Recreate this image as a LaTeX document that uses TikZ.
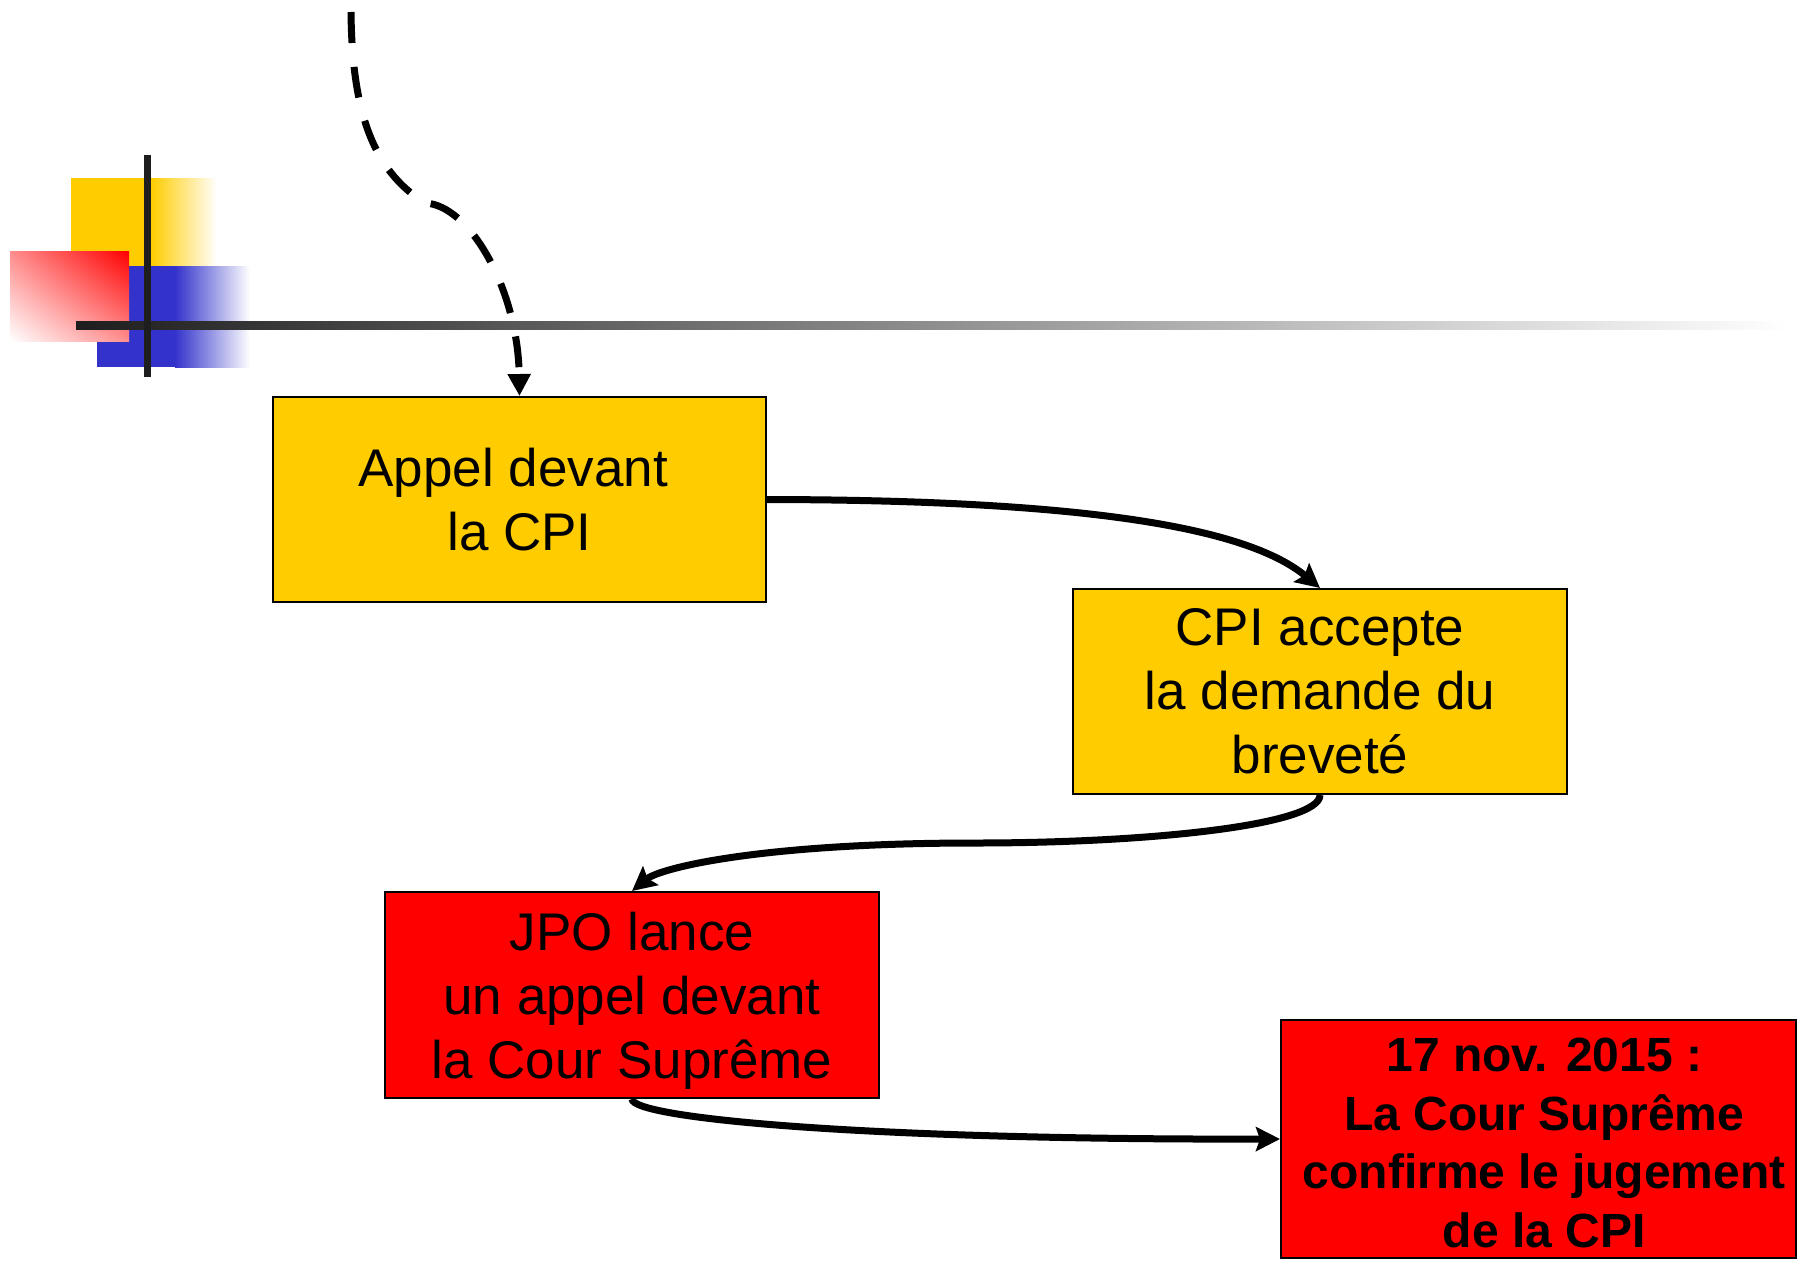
\documentclass[tikz,border=0pt]{standalone}
\usepackage{fontspec}
\setmainfont{Liberation Sans}
\usetikzlibrary{arrows.meta,shadings}
\definecolor{boxyellow}{HTML}{FFCC00}
\definecolor{boxred}{HTML}{FF0000}
\definecolor{decoblue}{HTML}{3333CC}
\definecolor{decodark}{HTML}{1E1E1E}
\newcommand{\txtleftnudge}{\hspace*{-12.6pt}}
\newcommand{\txtrightnudge}{\hspace*{11.5pt}}
\tikzset{
  stagebox/.style={draw=black, line width=2pt, inner sep=0pt, align=center,
    font=\fontsize{53}{64}\selectfont},
  yellowbox/.style={stagebox, fill=boxyellow},
  redbox/.style={stagebox, fill=boxred},
  flow/.style={line width=7pt, -{Stealth[length=24pt,width=24pt,inset=4pt]}},
  dashflow/.style={line width=7pt, dash pattern=on 31pt off 24pt,
    -{Triangle[length=22pt,width=22pt]}},
}
\begin{document}
\begin{tikzpicture}[x=1pt,y=-1pt]
\useasboundingbox (0,0) rectangle (1798,1264);
% decoration
\fill[boxyellow] (71,178) rectangle (151,267);
\shade[left color=boxyellow, right color=white] (151,178) rectangle (217,267);
\fill[decoblue] (97,266) rectangle (175,367);
\shade[left color=decoblue, right color=white] (175,266) rectangle (250,367);
\shade[upper right=boxred, lower left=white, upper left=boxred!45, lower right=boxred!45]
  (10,251) rectangle (129,341);
\shade[left color=decodark, right color=white] (76,321) rectangle (1790,329);
\fill[decodark] (144,155) rectangle (151,377);
% boxes
\node[yellowbox, minimum width=493pt, minimum height=205pt] (b1) at (519.5,499.5)
  {\txtleftnudge Appel devant\\la CPI};
\node[yellowbox, minimum width=494pt, minimum height=205pt] (b2) at (1320,691.5)
  {CPI accepte\\la demande du\\breveté};
\node[redbox, minimum width=494pt, minimum height=206pt] (b3) at (632,995)
  {JPO lance\\un appel devant\\\smash{la Cour Suprême}};
\node[redbox, minimum width=515pt, minimum height=238pt,
  font=\fontsize{48}{58.5}\selectfont\bfseries] (b4) at (1538.5,1139)
  {\txtrightnudge\rule{0pt}{41.5pt}17 nov. 2015 :\\\txtrightnudge La Cour Suprême\\\txtrightnudge confirme le jugement\\\txtrightnudge de la CPI};
% connectors
\coordinate (s0) at (351,12);
\coordinate (k) at (425,203);
\draw[dashflow] (s0) .. controls (352,110) and (372,170) .. (k)
  .. controls (470,205) and (518,290) .. (b1.north);
\draw[flow] (b1.east) .. controls (1100,500) and (1250,530) .. (b2.north);
\coordinate (m2) at (975,843);
\draw[flow] (b2.south) .. controls (1320,825) and (1150,843) .. (m2)
  .. controls (760,843) and (660,868) .. (b3.north);
\draw[flow] (b3.south) .. controls (632,1118) and (860,1140) .. (b4.west);
\end{tikzpicture}
\end{document}
